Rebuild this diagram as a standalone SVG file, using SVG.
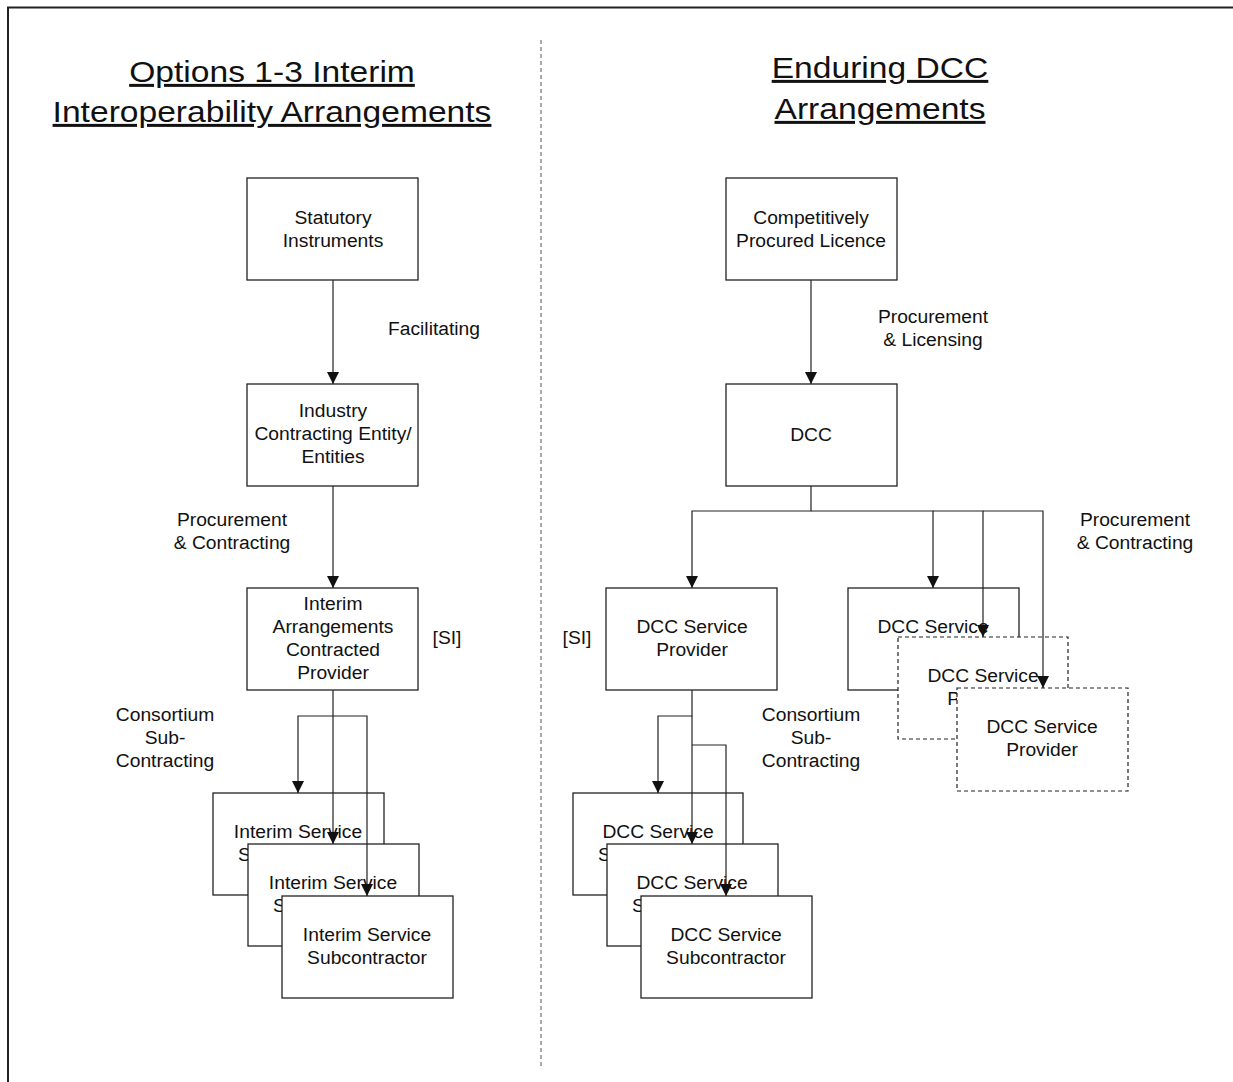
<svg xmlns="http://www.w3.org/2000/svg" width="1233" height="1082" viewBox="0 0 1233 1082">
<style>
text{font-family:"Liberation Sans",Arial,sans-serif;fill:#111;text-anchor:middle}
.t{font-size:18px}
.h{font-size:30px;text-decoration:underline;text-decoration-skip-ink:none}
.box{fill:#fff;stroke:#222;stroke-width:1.3}
.dbox{fill:#fff;stroke:#222;stroke-width:1.2;stroke-dasharray:4 3}
.c{fill:none;stroke:#222;stroke-width:1.2}
</style>
<defs>
<marker id="ah" viewBox="0 0 12 12" markerWidth="12" markerHeight="12" refX="12" refY="6" orient="auto" markerUnits="userSpaceOnUse">
<path d="M0,0 L12,6 L0,12 z" fill="#111"/>
</marker>
</defs>
<rect width="1233" height="1082" fill="#fff"/>
<path d="M8,1082 V7.5 H1233" fill="none" stroke="#222" stroke-width="2"/>
<line x1="541" y1="40" x2="541" y2="1066" stroke="#555" stroke-width="1" stroke-dasharray="4 3"/>

<g id="titles">
<text class="h" transform="translate(272 82) scale(1.12 1)">Options 1-3 Interim</text>
<text class="h" transform="translate(272 122) scale(1.12 1)">Interoperability Arrangements</text>
<text class="h" transform="translate(880 78) scale(1.12 1)">Enduring DCC</text>
<text class="h" transform="translate(880 119) scale(1.12 1)">Arrangements</text>
</g>

<g id="labels">
<text class="t" transform="translate(434 335) scale(1.07 1)">Facilitating</text>
<text class="t" transform="translate(232 526) scale(1.07 1)">Procurement</text>
<text class="t" transform="translate(232 549) scale(1.07 1)">&amp; Contracting</text>
<text class="t" transform="translate(165 721) scale(1.07 1)">Consortium</text>
<text class="t" transform="translate(165 744) scale(1.07 1)">Sub-</text>
<text class="t" transform="translate(165 767) scale(1.07 1)">Contracting</text>
<text class="t" transform="translate(447 644) scale(1.07 1)">[SI]</text>
<text class="t" transform="translate(933 323) scale(1.07 1)">Procurement</text>
<text class="t" transform="translate(933 346) scale(1.07 1)">&amp; Licensing</text>
<text class="t" transform="translate(1135 526) scale(1.07 1)">Procurement</text>
<text class="t" transform="translate(1135 549) scale(1.07 1)">&amp; Contracting</text>
<text class="t" transform="translate(577 644) scale(1.07 1)">[SI]</text>
<text class="t" transform="translate(811 721) scale(1.07 1)">Consortium</text>
<text class="t" transform="translate(811 744) scale(1.07 1)">Sub-</text>
<text class="t" transform="translate(811 767) scale(1.07 1)">Contracting</text>
</g>

<g id="statutory">
<rect class="box" x="247" y="178" width="171" height="102"/>
<text class="t" transform="translate(333 224) scale(1.07 1)">Statutory</text>
<text class="t" transform="translate(333 247) scale(1.07 1)">Instruments</text>
</g>
<g id="industry">
<rect class="box" x="247" y="384" width="171" height="102"/>
<text class="t" transform="translate(333 417) scale(1.07 1)">Industry</text>
<text class="t" transform="translate(333 440) scale(1.07 1)">Contracting Entity/</text>
<text class="t" transform="translate(333 463) scale(1.07 1)">Entities</text>
</g>
<g id="interim-provider">
<rect class="box" x="247" y="588" width="171" height="102"/>
<text class="t" transform="translate(333 610) scale(1.07 1)">Interim</text>
<text class="t" transform="translate(333 633) scale(1.07 1)">Arrangements</text>
<text class="t" transform="translate(333 656) scale(1.07 1)">Contracted</text>
<text class="t" transform="translate(333 679) scale(1.07 1)">Provider</text>
</g>
<g id="interim-sub-1">
<rect class="box" x="213" y="793" width="171" height="102"/>
<text class="t" transform="translate(298 838) scale(1.07 1)">Interim Service</text>
<text class="t" transform="translate(298 861) scale(1.07 1)">Subcontractor</text>
</g>
<g id="interim-sub-2">
<rect class="box" x="248" y="844" width="171" height="102"/>
<text class="t" transform="translate(333 889) scale(1.07 1)">Interim Service</text>
<text class="t" transform="translate(333 912) scale(1.07 1)">Subcontractor</text>
</g>
<g id="interim-sub-3">
<rect class="box" x="282" y="896" width="171" height="102"/>
<text class="t" transform="translate(367 941) scale(1.07 1)">Interim Service</text>
<text class="t" transform="translate(367 964) scale(1.07 1)">Subcontractor</text>
</g>

<g id="licence">
<rect class="box" x="726" y="178" width="171" height="102"/>
<text class="t" transform="translate(811 224) scale(1.07 1)">Competitively</text>
<text class="t" transform="translate(811 247) scale(1.07 1)">Procured Licence</text>
</g>
<g id="dcc">
<rect class="box" x="726" y="384" width="171" height="102"/>
<text class="t" transform="translate(811 441) scale(1.07 1)">DCC</text>
</g>
<g id="dcc-sp-si">
<rect class="box" x="606" y="588" width="171" height="102"/>
<text class="t" transform="translate(692 633) scale(1.07 1)">DCC Service</text>
<text class="t" transform="translate(692 656) scale(1.07 1)">Provider</text>
</g>
<g id="dcc-sp-1">
<rect class="box" x="848" y="588" width="171" height="102"/>
<text class="t" transform="translate(933 633) scale(1.07 1)">DCC Service</text>
<text class="t" transform="translate(933 656) scale(1.07 1)">Provider</text>
</g>
<g id="dcc-sp-2">
<rect class="dbox" x="898" y="637" width="170" height="102"/>
<text class="t" transform="translate(983 682) scale(1.07 1)">DCC Service</text>
<text class="t" transform="translate(983 705) scale(1.07 1)">Provider</text>
</g>
<g id="dcc-sp-3">
<rect class="dbox" x="957" y="688" width="171" height="103"/>
<text class="t" transform="translate(1042 733) scale(1.07 1)">DCC Service</text>
<text class="t" transform="translate(1042 756) scale(1.07 1)">Provider</text>
</g>
<g id="dcc-sub-1">
<rect class="box" x="573" y="793" width="170" height="102"/>
<text class="t" transform="translate(658 838) scale(1.07 1)">DCC Service</text>
<text class="t" transform="translate(658 861) scale(1.07 1)">Subcontractor</text>
</g>
<g id="dcc-sub-2">
<rect class="box" x="607" y="844" width="171" height="102"/>
<text class="t" transform="translate(692 889) scale(1.07 1)">DCC Service</text>
<text class="t" transform="translate(692 912) scale(1.07 1)">Subcontractor</text>
</g>
<g id="dcc-sub-3">
<rect class="box" x="641" y="896" width="171" height="102"/>
<text class="t" transform="translate(726 941) scale(1.07 1)">DCC Service</text>
<text class="t" transform="translate(726 964) scale(1.07 1)">Subcontractor</text>
</g>

<g id="connectors">
<path class="c" d="M333,280 V384" marker-end="url(#ah)"/>
<path class="c" d="M333,486 V588" marker-end="url(#ah)"/>
<path class="c" d="M333,690 V716 H298 V793" marker-end="url(#ah)"/>
<path class="c" d="M333,716 V844" marker-end="url(#ah)"/>
<path class="c" d="M333,716 H367 V896" marker-end="url(#ah)"/>
<path class="c" d="M811,280 V384" marker-end="url(#ah)"/>
<path class="c" d="M811,486 V511 H692 V588" marker-end="url(#ah)"/>
<path class="c" d="M811,511 H933 V588" marker-end="url(#ah)"/>
<path class="c" d="M933,511 H983 V637" marker-end="url(#ah)"/>
<path class="c" d="M983,511 H1043 V688" marker-end="url(#ah)"/>
<path class="c" d="M692,690 V716 H658 V793" marker-end="url(#ah)"/>
<path class="c" d="M692,716 V844" marker-end="url(#ah)"/>
<path class="c" d="M692,745 H726 V896" marker-end="url(#ah)"/>
</g>
</svg>
